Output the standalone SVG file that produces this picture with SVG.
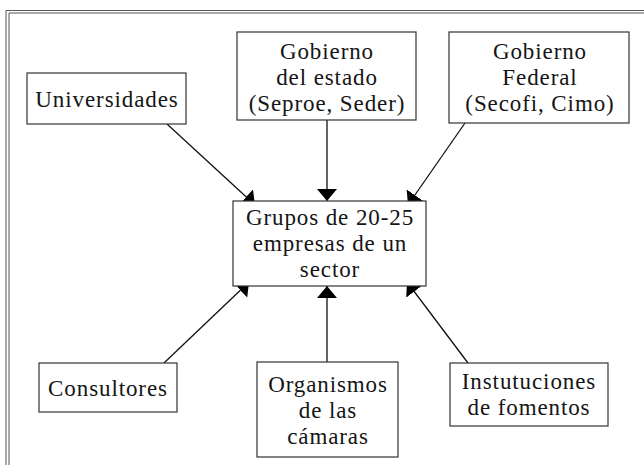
<svg xmlns="http://www.w3.org/2000/svg" width="644" height="465" viewBox="0 0 644 465">
<defs>
<style>
.box{fill:#ffffff;stroke:#333333;stroke-width:1.2}
.t{font-family:"Liberation Serif","Times New Roman",serif;font-size:23px;letter-spacing:0.9px;fill:#151515;text-anchor:middle}
.c{stroke:#111111;stroke-width:1.3;fill:none}
.frame{stroke:#555555;stroke-width:1;fill:none}
</style>
<marker id="ah" markerUnits="userSpaceOnUse" markerWidth="14" markerHeight="22" refX="12" refY="10" orient="auto">
<path d="M0,0 L12,10 L0,20 Z" fill="#000000"/>
</marker>
</defs>
<rect x="0" y="0" width="644" height="465" fill="#ffffff"/>
<g id="frame">
<path class="frame" d="M6,465 V10.5 H644"/>
<path class="frame" d="M9,465 V13 H644"/>
</g>
<g id="connectors">
<line class="c" x1="167" y1="124" x2="255" y2="205" marker-end="url(#ah)"/>
<line class="c" x1="327" y1="120" x2="327" y2="201" marker-end="url(#ah)"/>
<line class="c" x1="465" y1="123" x2="408" y2="205" marker-end="url(#ah)"/>
<line class="c" x1="164" y1="363" x2="249" y2="282" marker-end="url(#ah)"/>
<line class="c" x1="327" y1="362" x2="327" y2="286" marker-end="url(#ah)"/>
<line class="c" x1="468" y1="363" x2="407" y2="282" marker-end="url(#ah)"/>
</g>
<g id="universidades">
<rect class="box" x="27" y="73" width="159" height="51"/>
<text class="t" x="107" y="107">Universidades</text>
</g>
<g id="gobierno-estado">
<rect class="box" x="237" y="32" width="179" height="88"/>
<text class="t" x="327" y="59">Gobierno</text>
<text class="t" x="327" y="85">del estado</text>
<text class="t" x="327" y="111">(Seproe, Seder)</text>
</g>
<g id="gobierno-federal">
<rect class="box" x="449" y="32" width="180" height="91"/>
<text class="t" x="540" y="59">Gobierno</text>
<text class="t" x="540" y="85">Federal</text>
<text class="t" x="540" y="111">(Secofi, Cimo)</text>
</g>
<g id="grupos">
<rect class="box" x="233" y="201" width="193" height="85"/>
<text class="t" x="330" y="225">Grupos de 20-25</text>
<text class="t" x="330" y="251">empresas de un</text>
<text class="t" x="330" y="277">sector</text>
</g>
<g id="consultores">
<rect class="box" x="39" y="363" width="138" height="49"/>
<text class="t" x="108" y="396">Consultores</text>
</g>
<g id="organismos">
<rect class="box" x="257" y="362" width="141" height="95"/>
<text class="t" x="328" y="392">Organismos</text>
<text class="t" x="328" y="418">de las</text>
<text class="t" x="328" y="444">cámaras</text>
</g>
<g id="instituciones">
<rect class="box" x="450" y="363" width="158" height="63"/>
<text class="t" x="529" y="389">Instutuciones</text>
<text class="t" x="529" y="415">de fomentos</text>
</g>
</svg>
